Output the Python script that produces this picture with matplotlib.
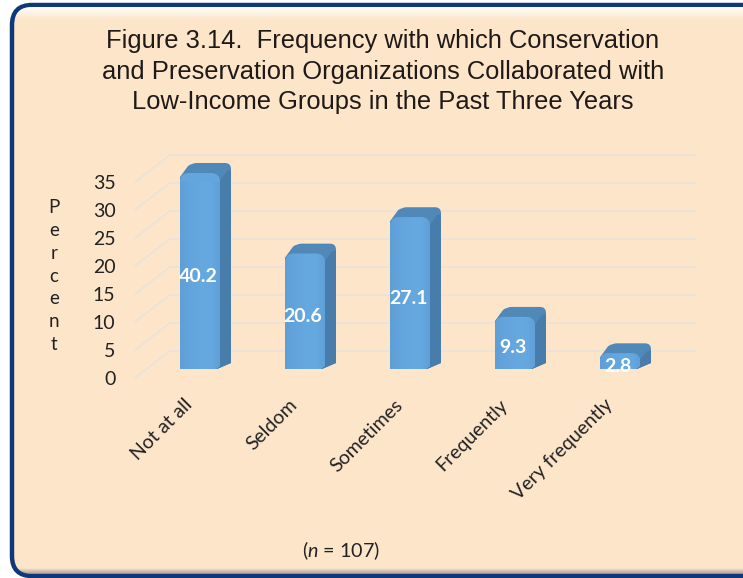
"""
Figure 3.14 - pseudo 3D bar chart of collaboration frequency on a rounded slide panel.
The value axis stops at 35, so the 40.2 bar is cut off at the top like in the original.
"""

import numpy as np
import matplotlib
matplotlib.use("Agg")
import matplotlib.pyplot as plt
from matplotlib.colors import LinearSegmentedColormap
from matplotlib.patches import FancyBboxPatch, PathPatch
from matplotlib.path import Path

categories = ["Not at all", "Seldom", "Sometimes", "Frequently", "Very frequently"]
percent = [40.2, 20.6, 27.1, 9.3, 2.8]
y_ticks = [0, 5, 10, 15, 20, 25, 30, 35]
y_max = 35

title = ("Figure 3.14.  Frequency with which Conservation\n"
         "and Preservation Organizations Collaborated with\n"
         "Low-Income Groups in the Past Three Years")

W, H = 743, 578
CAT_PX = 105.0   # pixels per category
UNIT_PX = 5.6    # pixels per percent
AX_LEFT, AX_BOTTOM = 135, 378

LABEL_FONT = ["Lato", "DejaVu Sans"]
plt.rcParams["mathtext.fontset"] = "custom"
plt.rcParams["mathtext.it"] = "Lato:italic"
plt.rcParams["mathtext.rm"] = "Lato"


def pt(i, v, dx=0, dy=0):
    """Data position of a bar point, dx/dy are pixel offsets (bars sit mid depth)."""
    return (i + (12.5 + dx) / CAT_PX, v + (9 + dy) / UNIT_PX)


def draw_bar(ax, i, value):
    top = min(value, y_max)
    hw = 20
    depth_x, depth_y = 11, 10
    r = min(9, top * UNIT_PX / 2)

    # back silhouette: top face colour, rounded at both back corners
    verts = [pt(i, 0, hw - 3, 0), pt(i, 0, hw + depth_x, 6), pt(i, top, hw + depth_x, depth_y - 6),
             pt(i, top, hw + depth_x, depth_y), pt(i, top, hw + depth_x - 6, depth_y),
             pt(i, top, -hw + 17, depth_y), pt(i, top, -hw + 12, depth_y), pt(i, top, -hw + 8, depth_y - 3),
             pt(i, top, -hw, -4), pt(i, 0, -hw, 0), pt(i, 0, hw - 3, 0)]
    codes = [Path.MOVETO, Path.LINETO, Path.LINETO, Path.CURVE3, Path.CURVE3,
             Path.LINETO, Path.CURVE3, Path.CURVE3, Path.LINETO, Path.LINETO, Path.CLOSEPOLY]
    ax.add_patch(PathPatch(Path(verts, codes), fc="#5088B8", ec="none", clip_on=False, zorder=3))

    # darker side face
    side = [pt(i, 0, hw - 3, 0), pt(i, 0, hw + depth_x, 6), pt(i, top, hw + depth_x, depth_y - 7),
            pt(i, top, hw + depth_x - 4, depth_y - 8), pt(i, top, hw - 1, -r), pt(i, 0, hw - 3, 0)]
    ax.add_patch(PathPatch(Path(side, [Path.MOVETO] + [Path.LINETO] * 4 + [Path.CLOSEPOLY]),
                           fc="#477CAB", ec="none", clip_on=False, zorder=3.5))

    # front face with rounded top corners and a horizontal gradient
    front = [pt(i, 0, -hw, 0), pt(i, top, -hw, -r), pt(i, top, -hw, 0), pt(i, top, -hw + r, 0),
             pt(i, top, hw - r, 0), pt(i, top, hw, 0), pt(i, top, hw, -r),
             pt(i, 0, hw, 3), pt(i, 0, hw - 4, 0), pt(i, 0, -hw, 0)]
    front_codes = [Path.MOVETO, Path.LINETO, Path.CURVE3, Path.CURVE3, Path.LINETO, Path.CURVE3,
                   Path.CURVE3, Path.LINETO, Path.LINETO, Path.CLOSEPOLY]
    patch = PathPatch(Path(front, front_codes), fc="#63A5DC", ec="none", clip_on=False, zorder=4)
    ax.add_patch(patch)
    x0, y0 = pt(i, 0, -hw, 0)
    x1, y1 = pt(i, top, hw, 0)
    cmap = LinearSegmentedColormap.from_list("face", ["#5E9FD7", "#62A4DB", "#65A7DF", "#66A9E0", "#5FA0D8"])
    im = ax.imshow(np.linspace(0, 1, 64)[None, :], extent=(x0, x1, y0, y1), aspect="auto",
                   cmap=cmap, zorder=4.1, interpolation="bilinear")
    im.set_clip_path(patch)

    # value label, a bit under the middle of the front face
    ax.annotate(f"{value}", xy=pt(i, top / 2), xytext=(-2, -5), textcoords="offset pixels",
                ha="center", va="center", color="white", fontweight="bold", fontsize=14,
                family=LABEL_FONT, zorder=6, annotation_clip=False)


fig = plt.figure(figsize=(W / 100, H / 100), dpi=100, facecolor="white")

# slide panel
bg = fig.add_axes([0, 0, 1, 1], zorder=0)
bg.set_xlim(0, W)
bg.set_ylim(H, 0)
bg.axis("off")
panel = FancyBboxPatch((12, 5), 800, 571, boxstyle="round,pad=0,rounding_size=20",
                       fc="#FDE5CA", ec="#0E3878", lw=3.2, zorder=1)
bg.add_patch(panel)
inner = FancyBboxPatch((14, 7), 800, 567, boxstyle="round,pad=0,rounding_size=18", fc="none", ec="none")
bg.add_patch(inner)
shine = np.zeros((40, 1, 4))
shine[..., :3] = 1.0
shine[:, 0, 3] = np.linspace(0.95, 0, 40)
im_top = bg.imshow(shine, extent=(0, W, 20, 7), aspect="auto", zorder=2)
im_top.set_clip_path(inner)
shade = np.zeros((20, 1, 4))
shade[..., :3] = (0.45, 0.42, 0.45)
shade[:, 0, 3] = np.linspace(0, 0.6, 20)
im_bot = bg.imshow(shade, extent=(0, W, 574, 568), aspect="auto", zorder=2)
im_bot.set_clip_path(inner)
bg.set_xlim(0, W)
bg.set_ylim(H, 0)

bg.text(383, 71.5, title, ha="center", va="center", family="Liberation Sans", fontsize=18.4,
        color="#1F1A17", linespacing=1.33, zorder=3)
bg.text(341, 551, r"($\mathit{n}$ = 107)", ha="center", va="center", family=LABEL_FONT,
        fontsize=14.2, color="#222222", zorder=3)

# chart axes: front floor edge, the depth is drawn outside of it
ax = fig.add_axes([AX_LEFT / W, 1 - AX_BOTTOM / H, 5 * CAT_PX / W, y_max * UNIT_PX / H], zorder=1)
ax.patch.set_alpha(0)
for s in ax.spines.values():
    s.set_visible(False)

depth_cat = 35 / CAT_PX
depth_val = 27 / UNIT_PX
for t in y_ticks:
    ax.plot([-0.5, -0.5 + depth_cat, 4.5 + depth_cat], [t, t + depth_val, t + depth_val],
            color="#E6E2DC", lw=1.0, clip_on=False, zorder=1)

for i, v in enumerate(percent):
    draw_bar(ax, i, v)

ax.set_xlim(-0.5, 4.5)
ax.set_ylim(0, y_max)
ax.set_yticks(y_ticks)
ax.set_yticklabels([str(t) for t in y_ticks], family=LABEL_FONT, fontsize=14, color="#222222")
# labels end a little left of the category centre
ax.set_xticks([i - 0.035 for i in range(len(categories))])
ax.set_xticklabels(categories, rotation=45, ha="right", va="top", rotation_mode="anchor",
                   family=LABEL_FONT, fontsize=14, color="#222222")
ax.tick_params(axis="y", length=0, pad=14)
ax.tick_params(axis="x", length=0, pad=13)
ax.set_ylabel("P\ne\nr\nc\ne\nn\nt", rotation=0, family=LABEL_FONT, fontsize=13.5, color="#222222",
              linespacing=1.42, va="center", ha="center")
ax.yaxis.set_label_coords((54 - AX_LEFT) / (5 * CAT_PX), 0.52)

fig.savefig("out.png", dpi=100, facecolor="white")
